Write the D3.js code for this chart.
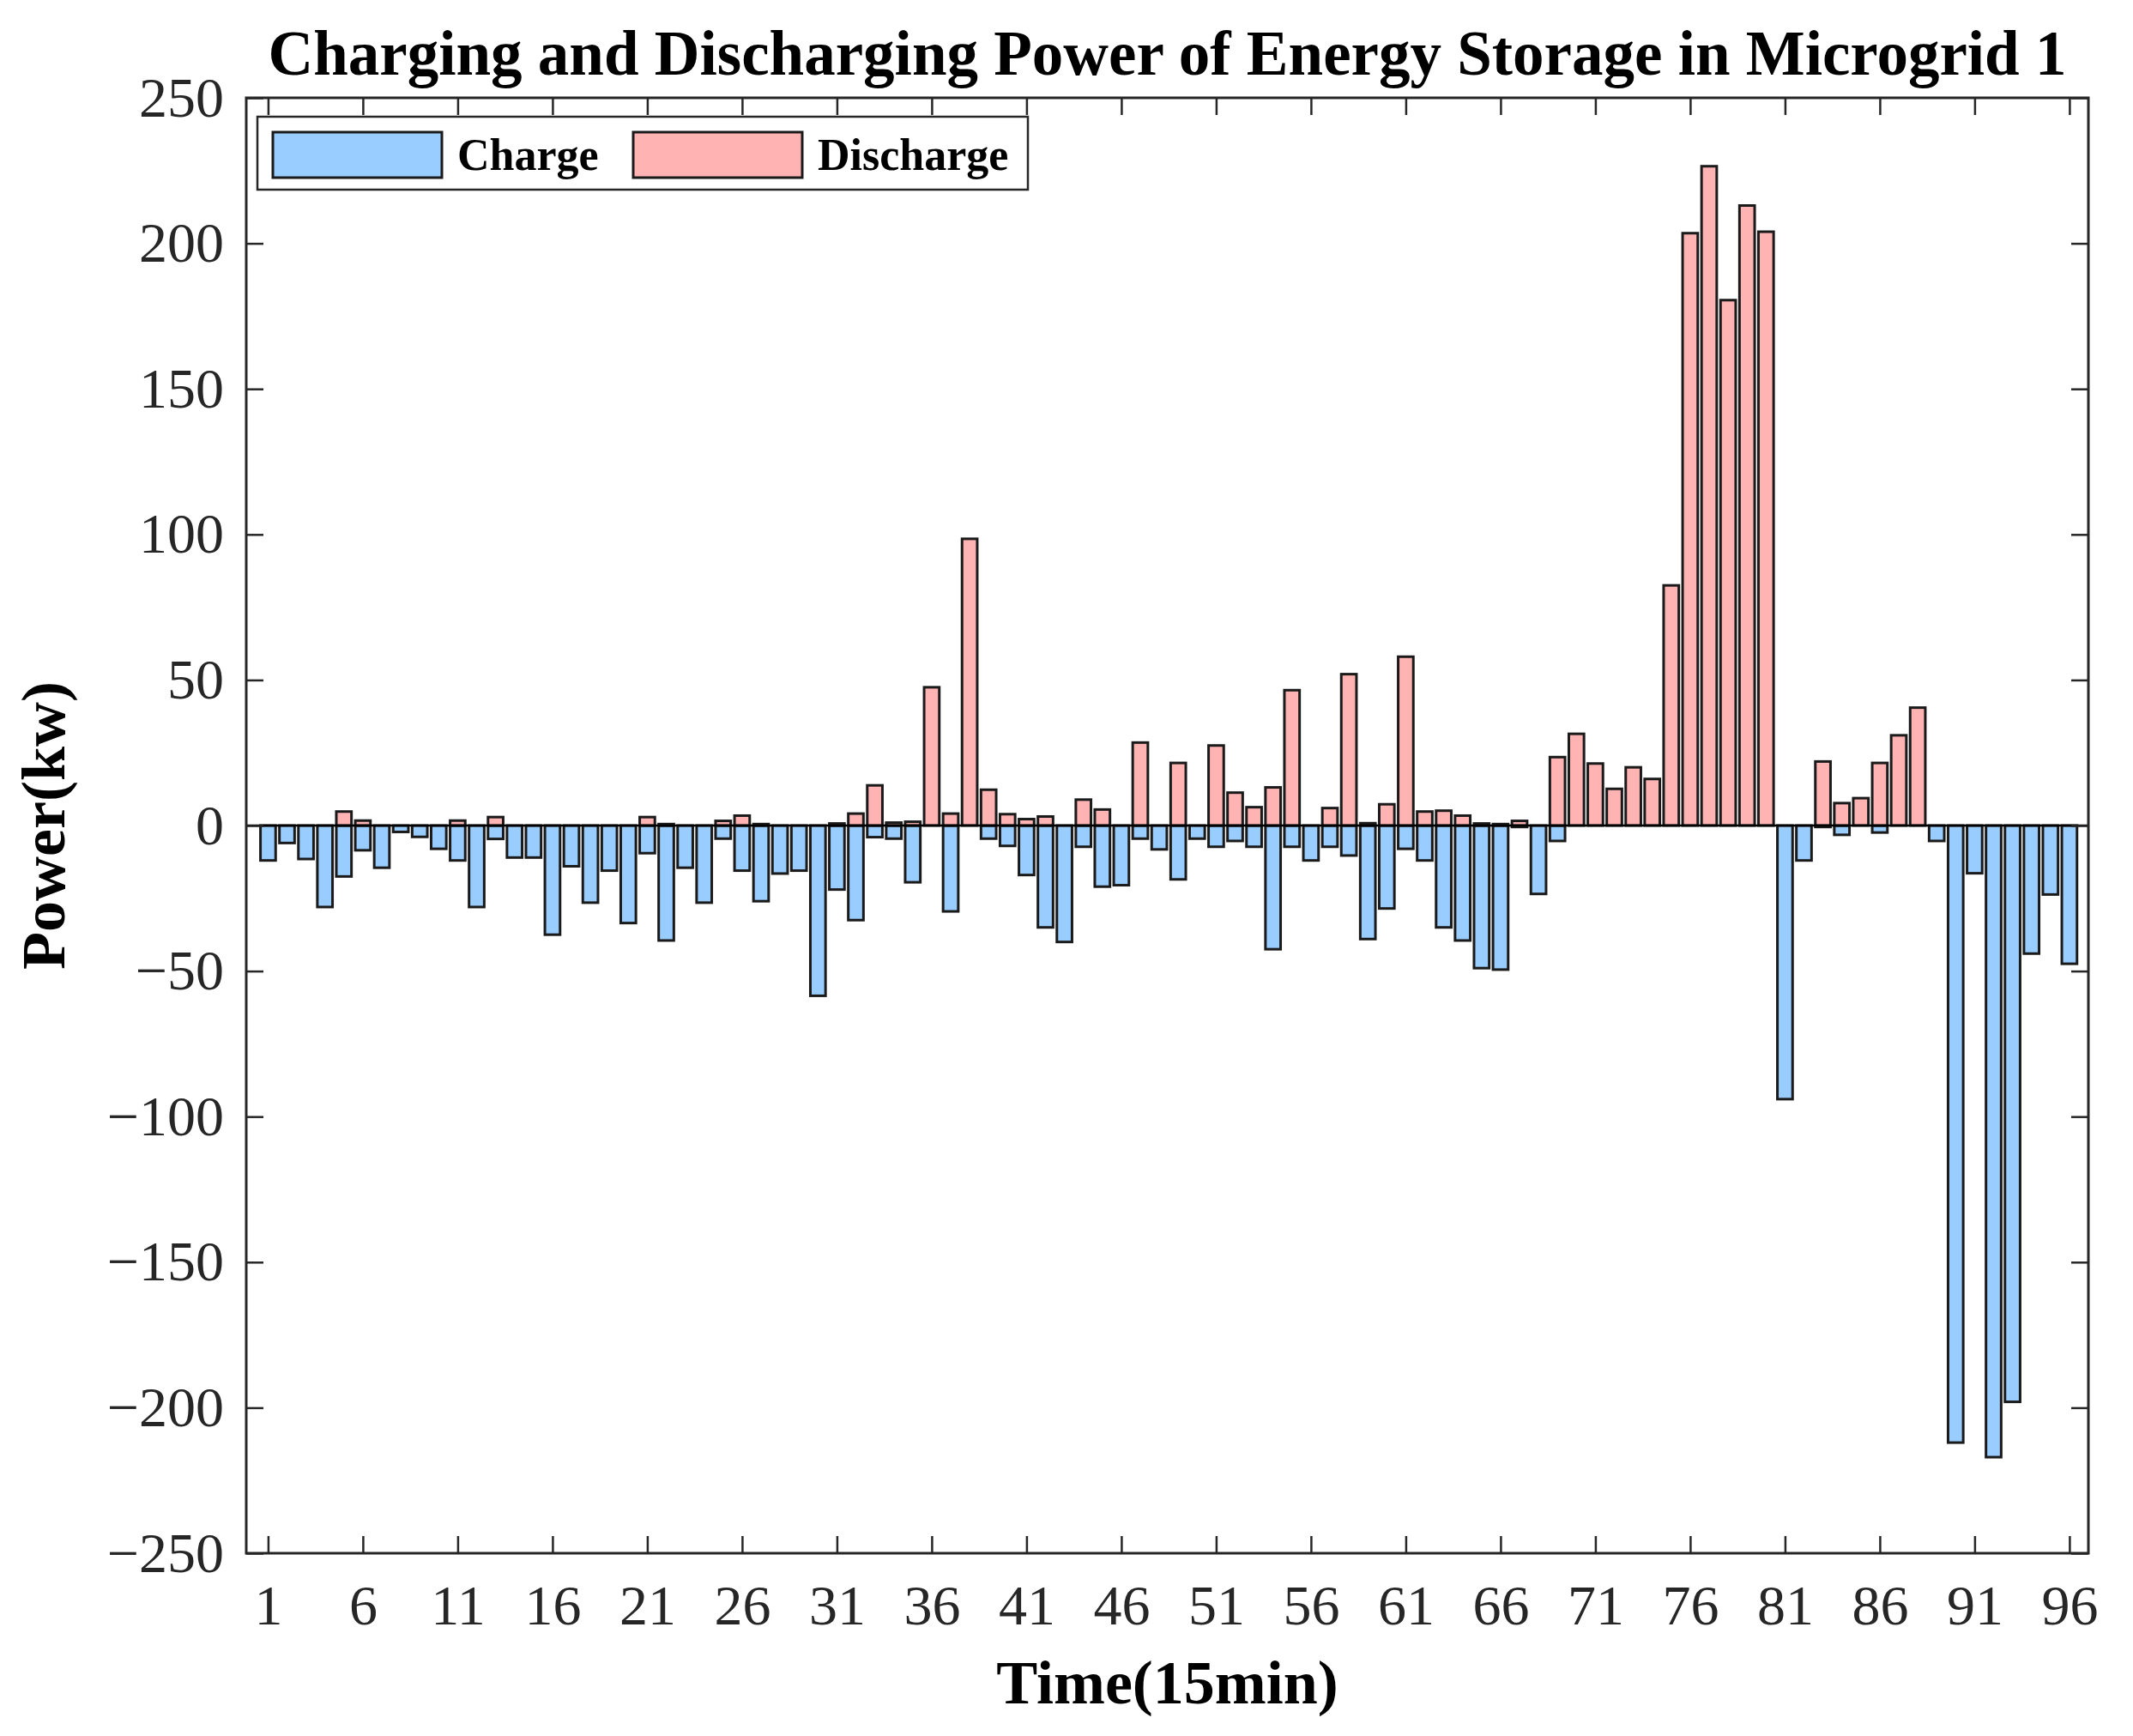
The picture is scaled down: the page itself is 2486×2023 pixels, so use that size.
<!DOCTYPE html>
<html>
<head>
<meta charset="utf-8">
<script src="https://cdn.jsdelivr.net/npm/d3@7"></script>
<style>
  body { margin: 0; background: #fff; }
  svg { display: block; }
</style>
</head>
<body>
<div id="chart"></div>
<script>
// time slots 1..96 (15 min each)
const slots = d3.range(1, 97);

// charging power (kW), negative
const charge = [
  -12, -6, -11.5, -28, -17.5, -8.5, -14.5, -2.2, -3.9, -8,
  -12, -28, -4.6, -11, -11, -37.5, -14, -26.5, -15.5, -33.5,
  -9.5, -39.5, -14.5, -26.5, -4.5, -15.5, -26, -16.5, -15.5, -58.5,
  -22, -32.5, -4, -4.5, -19.5, 0, -29.5, 0, -4.5, -7,
  -17, -35, -40, -7.3, -21, -20.5, -4.5, -8.2, -18.5, -4.5,
  -7.3, -5.3, -7.3, -42.5, -7.3, -12, -7.3, -10.3, -39, -28.5,
  -8, -12, -35, -39.5, -49, -49.5, -0.5, -23.5, -5.3, 0,
  0, 0, 0, 0, 0, 0, 0, 0, 0, 0,
  -94, -12, -0.5, -3.2, 0, -2.4, 0, 0, -5.3, -212,
  -16.4, -217, -198, -44, -23.7, -47.5
];

// discharging power (kW), positive
const discharge = [
  0, 0, 0, 0, 4.8, 1.7, 0, 0, 0, 0,
  1.7, 0, 2.9, 0, 0, 0, 0, 0, 0, 0,
  2.9, 0.5, 0, 0, 1.6, 3.4, 0.5, 0, 0, 0,
  0.7, 4.1, 13.8, 1, 1.3, 47.5, 4.1, 98.5, 12.3, 3.9,
  2.2, 3.1, 0, 8.9, 5.5, 0, 28.5, 0, 21.5, 0,
  27.5, 11.3, 6.3, 13.1, 46.5, 0, 6, 52, 0.8, 7.3,
  58, 4.8, 5.1, 3.4, 0.7, 0.5, 1.6, 0, 23.5, 31.5,
  21.3, 12.6, 20, 16, 82.5, 203.5, 226.5, 180.5, 213, 204,
  0, 0, 22, 7.7, 9.4, 21.5, 31, 40.5, 0, 0,
  0, 0, 0, 0, 0, 0
];

const xTicks = d3.range(1, 97, 5);
const yTicks = d3.range(-250, 251, 50);
const seriesNames = ["Charge", "Discharge"];
const seriesColors = ["#99ccff", "#ffb3b3"];

const W = 2486, H = 2023;
const mL = 287, mR = 2434, mT = 114, mB = 1810;
const serif = "'Liberation Serif', 'Times New Roman', serif";

const svg = d3.select("#chart").append("svg")
  .attr("width", W).attr("height", H)
  .style("background", "#fff");

const x = d3.scaleLinear().domain([-0.15, 97]).range([mL, mR]);
const y = d3.scaleLinear().domain([-250, 250]).range([mB, mT]);
const bw = (x(2) - x(1)) * 0.8;

// bars
[charge, discharge].forEach((vals, k) => {
  svg.append("g").selectAll("rect")
    .data(vals)
    .join("rect")
      .attr("x", (d, i) => x(slots[i]) - bw / 2)
      .attr("y", d => y(Math.max(0, d)))
      .attr("width", bw)
      .attr("height", d => Math.abs(y(d) - y(0)))
      .attr("fill", seriesColors[k])
      .attr("stroke", "#1a1a1a")
      .attr("stroke-width", 3);
});

// baseline
svg.append("line")
  .attr("x1", mL).attr("x2", mR)
  .attr("y1", y(0)).attr("y2", y(0))
  .attr("stroke", "#000").attr("stroke-width", 2.5);

// axes (inward ticks on all four sides)
function styleAxis(g) {
  g.select(".domain").remove();
  g.selectAll(".tick line").attr("stroke", "#262626").attr("stroke-width", 2.5);
  g.selectAll(".tick text")
    .attr("fill", "#262626")
    .style("font-family", serif)
    .style("font-size", "66px");
}

svg.append("g")
  .attr("transform", `translate(${mL},0)`)
  .call(d3.axisLeft(y).tickValues(yTicks).tickSizeInner(-20).tickSizeOuter(0).tickPadding(26))
  .call(styleAxis);

svg.append("g")
  .attr("transform", `translate(${mR},0)`)
  .call(d3.axisRight(y).tickValues(yTicks).tickSizeInner(-20).tickSizeOuter(0).tickFormat(""))
  .call(styleAxis);

svg.append("g")
  .attr("transform", `translate(0,${mB})`)
  .call(d3.axisBottom(x).tickValues(xTicks).tickSizeInner(-20).tickSizeOuter(0).tickPadding(36).tickFormat(d3.format("d")))
  .call(styleAxis);

svg.append("g")
  .attr("transform", `translate(0,${mT})`)
  .call(d3.axisTop(x).tickValues(xTicks).tickSizeInner(-20).tickSizeOuter(0).tickFormat(""))
  .call(styleAxis);

svg.append("rect")
  .attr("x", mL).attr("y", mT)
  .attr("width", mR - mL).attr("height", mB - mT)
  .attr("fill", "none")
  .attr("stroke", "#262626").attr("stroke-width", 3);

// title & axis labels
svg.append("text")
  .attr("x", (mL + mR) / 2).attr("y", 87)
  .attr("text-anchor", "middle")
  .style("font-family", serif).style("font-weight", "bold").style("font-size", "73px")
  .text("Charging and Discharging Power of Energy Storage in Microgrid 1");

svg.append("text")
  .attr("x", (mL + mR) / 2).attr("y", 1985)
  .attr("text-anchor", "middle")
  .style("font-family", serif).style("font-weight", "bold").style("font-size", "72px")
  .text("Time(15min)");

svg.append("text")
  .attr("transform", `translate(75,${(mT + mB) / 2}) rotate(-90)`)
  .attr("text-anchor", "middle")
  .style("font-family", serif).style("font-weight", "bold").style("font-size", "72px")
  .text("Power(kw)");

// legend
const lg = svg.append("g");
lg.append("rect")
  .attr("x", 300).attr("y", 136).attr("width", 898).attr("height", 85)
  .attr("fill", "#fff").attr("stroke", "#262626").attr("stroke-width", 2.5);
const legendX = [318, 738];
seriesNames.forEach((name, k) => {
  lg.append("rect")
    .attr("x", legendX[k]).attr("y", 154).attr("width", 197).attr("height", 53)
    .attr("fill", seriesColors[k]).attr("stroke", "#1a1a1a").attr("stroke-width", 3);
  lg.append("text")
    .attr("x", legendX[k] + 215).attr("y", 198)
    .style("font-family", serif).style("font-weight", "bold").style("font-size", "52px")
    .text(name);
});
</script>
</body>
</html>
